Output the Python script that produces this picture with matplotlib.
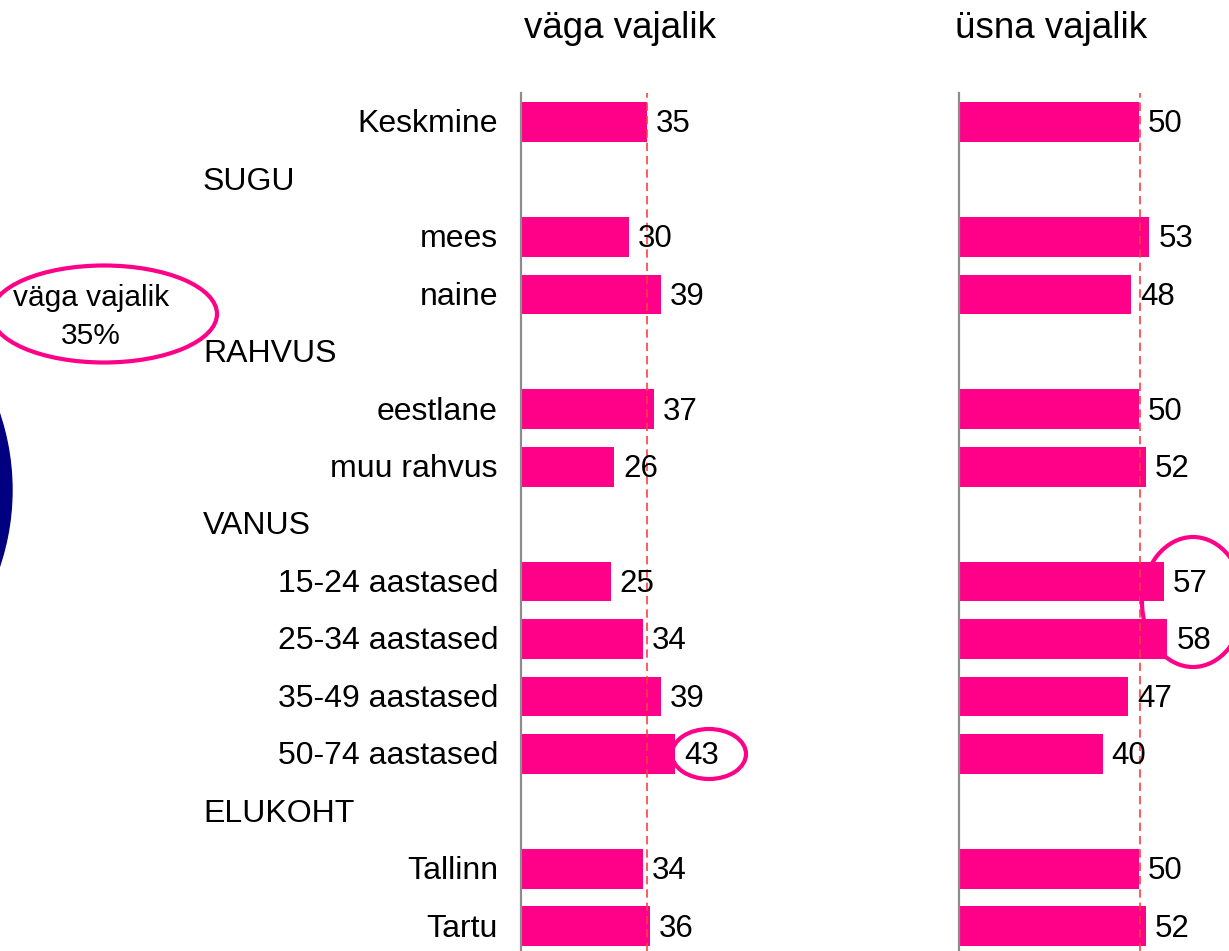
import matplotlib
matplotlib.use("Agg")
import matplotlib.pyplot as plt
import matplotlib.transforms as mtransforms
from matplotlib.patches import Ellipse, Circle

plt.rcParams['font.family'] = ['Liberation Sans', 'DejaVu Sans']

# ---- data ----
rows = ["Keskmine", "SUGU", "mees", "naine", "RAHVUS", "eestlane", "muu rahvus",
        "VANUS", "15-24 aastased", "25-34 aastased", "35-49 aastased", "50-74 aastased",
        "ELUKOHT", "Tallinn", "Tartu"]
is_header = [False, True, False, False, True, False, False,
             True, False, False, False, False, True, False, False]
vaga = [35, None, 30, 39, None, 37, 26, None, 25, 34, 39, 43, None, 34, 36]
usna = [50, None, 53, 48, None, 50, 52, None, 57, 58, 47, 40, None, 50, 52]
titles = ["väga vajalik", "üsna vajalik"]
avg_lines = [35, 50.5]
pie_label = "väga vajalik\n35%"

PINK = '#FF0088'
W, H = 1229, 951
fig = plt.figure(figsize=(W / 100, H / 100), dpi=100)

scale = 3.59  # px per unit
top_px = 93.3
ax_h = (H - top_px) / H
ymin, ymax = -0.5, 14.43
BASE_OFF = -7.4  # points: baseline below row centre

def make_ax(left_px, width_px):
    ax = fig.add_axes([left_px / W, 0, width_px / W, ax_h])
    ax.set_xlim(0, width_px / scale)
    ax.set_ylim(ymax, ymin)
    for s in ['top', 'right', 'bottom']:
        ax.spines[s].set_visible(False)
    ax.spines['left'].set_color('#8c8c8c')
    ax.spines['left'].set_linewidth(1.6)
    ax.set_xticks([])
    ax.set_yticks([])
    ax.patch.set_alpha(0)
    return ax

axes = [make_ax(521, 358), make_ax(959, 270)]
series = [vaga, usna]
title_x = [620, 1051]

for ax, vals, avg, title, tx in zip(axes, series, avg_lines, titles, title_x):
    ys = [i for i, v in enumerate(vals) if v is not None]
    vs = [v for v in vals if v is not None]
    ax.barh(ys, vs, height=0.69, color=PINK, zorder=2)
    ax.axvline(avg, color='#FF4040', linestyle=(0, (5, 3)), linewidth=1.2, zorder=3)
    for y, v in zip(ys, vs):
        ax.annotate(str(v), xy=(v, y), xytext=(6.5, BASE_OFF), textcoords='offset points',
                    ha='left', va='baseline', fontsize=22.5, color='black', zorder=4)
    fig.text(tx / W, 1 - 28 / H, title, ha='center', va='center', fontsize=26.5)

# category labels
trans = mtransforms.blended_transform_factory(fig.transFigure, axes[0].transData)
for i, (lab, hdr) in enumerate(zip(rows, is_header)):
    x = 203 / W if hdr else 498 / W
    ha = 'left' if hdr else 'right'
    axes[0].annotate(lab, xy=(x, i), xycoords=trans, xytext=(0, BASE_OFF),
                     textcoords='offset points', ha=ha, va='baseline',
                     fontsize=23, annotation_clip=False)

# overlay for decorations (pixel coordinates)
ov = fig.add_axes([0, 0, 1, 1])
ov.set_xlim(0, W)
ov.set_ylim(H, 0)
ov.axis('off')
ov.patch.set_alpha(0)
ov.add_patch(Circle((-228, 490), 240, color='#000080', zorder=1))
ov.add_patch(Ellipse((104, 314), 226, 97, fill=False, edgecolor=PINK, linewidth=3))
ov.text(91, 298, "väga vajalik", ha='center', va='center', fontsize=21.5)
ov.text(91, 336, "35%", ha='center', va='center', fontsize=21.5)
ov.add_patch(Ellipse((709, 754), 74, 50, fill=False, edgecolor=PINK, linewidth=3))
ov.add_patch(Ellipse((1193, 602), 102, 130, fill=False, edgecolor=PINK, linewidth=3))

fig.savefig("out.png", dpi=100)
